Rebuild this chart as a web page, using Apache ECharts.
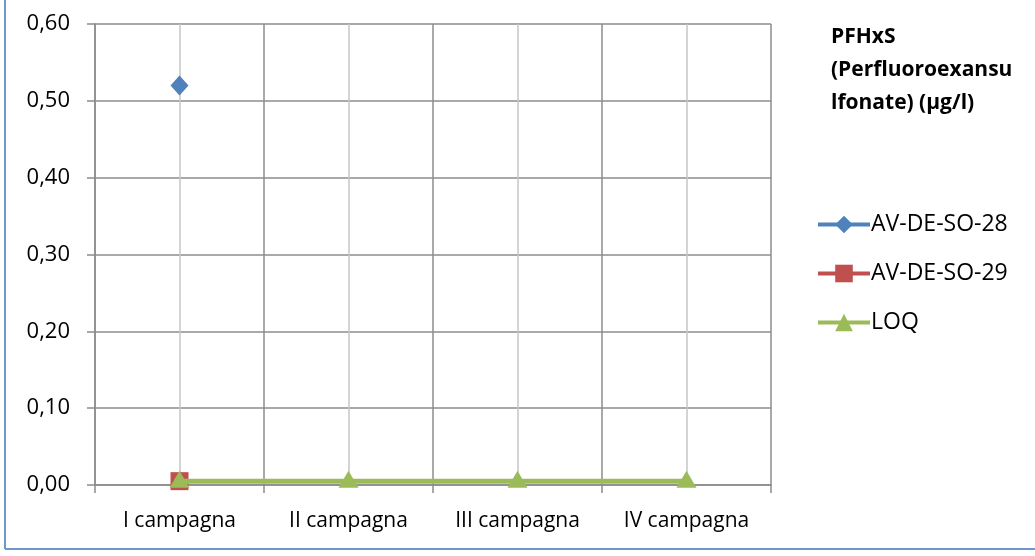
<!DOCTYPE html>
<html>
<head>
    <meta charset="utf-8">
    <title>PFHxS</title>
    <script src="https://cdn.jsdelivr.net/npm/echarts@6/dist/echarts.min.js"></script>
    <style>
        body { margin: 0; background: #fff; }
    </style>
</head>
<body>
    <div id="main" style="width: 1035px;height:556px;"></div>
    <script type="text/javascript">
        var categories = ["I campagna", "II campagna", "III campagna", "IV campagna"];
        var so28 = [0.52, null, null, null];
        var so29 = [0.005, null, null, null];
        var loq = [0.005, 0.005, 0.005, 0.005];
        var yTicks = { min: 0, max: 0.6, interval: 0.1 };

        var FONT = "Open Sans";
        var myChart = echarts.init(document.getElementById('main'));

        // linee verticali leggere al centro di ogni campagna
        var centerLines = categories.map(function (c) { return { xAxis: c }; });

        var option = {
            backgroundColor: "#fff",
            animation: false,
            title: {
                text: "PFHxS\n(Perfluoroexansu\nlfonate) (µg/l)",
                left: 826,
                top: 16,
                textStyle: {
                    fontFamily: FONT,
                    fontWeight: "bold",
                    fontSize: 21,
                    lineHeight: 33,
                    color: "#000"
                }
            },
            legend: {
                orient: "vertical",
                left: 811,
                top: 208,
                itemWidth: 52,
                itemHeight: 22,
                itemGap: 26,
                selectedMode: false,
                lineStyle: { width: 4 },
                textStyle: { fontFamily: FONT, fontSize: 23, color: "#000", padding: [0, 0, 0, -4] },
                data: ["AV-DE-SO-28", "AV-DE-SO-29", "LOQ"]
            },
            grid: { left: 95, right: 264, top: 24, bottom: 71 },
            xAxis: {
                type: "category",
                data: categories,
                boundaryGap: true,
                axisLine: { show: true, lineStyle: { color: "#8c8c8c", width: 1.5 } },
                axisTick: { show: true, length: 8, lineStyle: { color: "#8c8c8c", width: 1.5 } },
                splitLine: { show: true, lineStyle: { color: "#8c8c8c", width: 1.5 } },
                axisLabel: { fontFamily: FONT, fontSize: 21, color: "#000", margin: 26 }
            },
            yAxis: {
                type: "value",
                min: yTicks.min,
                max: yTicks.max,
                interval: yTicks.interval,
                axisLine: { show: true, lineStyle: { color: "#8c8c8c", width: 1.5 } },
                axisTick: { show: true, length: 8, lineStyle: { color: "#8c8c8c", width: 1.5 } },
                splitLine: { show: true, lineStyle: { color: "#8c8c8c", width: 1.5 } },
                axisLabel: {
                    fontFamily: FONT, fontSize: 22, color: "#000", margin: 25,
                    formatter: function (v) { return v.toFixed(2).replace(".", ","); }
                }
            },
            series: [
                {
                    name: "AV-DE-SO-28",
                    type: "line",
                    data: so28,
                    color: "#4F81BD",
                    symbol: "diamond",
                    symbolSize: [18, 20],
                    lineStyle: { width: 4 },
                    z: 3,
                    markLine: {
                        silent: true,
                        symbol: "none",
                        label: { show: false },
                        lineStyle: { color: "#c6c6c6", width: 1.5, type: "solid" },
                        data: centerLines,
                        z: 1
                    }
                },
                {
                    name: "AV-DE-SO-29",
                    type: "line",
                    data: so29,
                    color: "#C0504D",
                    symbol: "rect",
                    symbolSize: 18,
                    lineStyle: { width: 4 },
                    z: 3
                },
                {
                    name: "LOQ",
                    type: "line",
                    data: loq,
                    color: "#9BBB59",
                    symbol: "triangle",
                    symbolSize: [20, 17],
                    symbolOffset: [0, -2],
                    lineStyle: { width: 5 },
                    z: 4
                }
            ],
            graphic: [
                { type: "line", shape: { x1: 5, y1: 0, x2: 5, y2: 549 }, style: { stroke: "#6f96cc", lineWidth: 2 } },
                { type: "line", shape: { x1: 5, y1: 549, x2: 1035, y2: 549 }, style: { stroke: "#6f96cc", lineWidth: 2 } }
            ]
        };
        myChart.setOption(option);
    </script>
</body>
</html>
